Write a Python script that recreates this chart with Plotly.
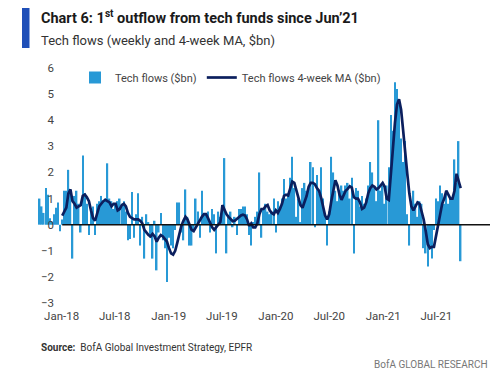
import pandas as pd
import plotly.graph_objects as go

# ---------------- data ----------------
first_week = "2017-10-18"   # weekly (Wednesday) flows

tech_flows = [
    1.0, 0.7, 0.45, 1.4, 1.15, 0.25, 0.1, 0.4, 0.65, 0.85,
    -0.25, 0.2, 1.3, 1.3, 2.1, 1.35, -1.3, 1.1, 1.3, 0.8,
    -0.3, 2.65, 1.2, 0.8, -0.4, 0.6, 0.7, -0.4, 0.8, 0.9,
    1.1, 0.9, 1.0, 2.35, 1.0, 0.9, 0.6, 0.8, 0.9, 1.0,
    0.8, 0.9, 0.5, -0.6, -0.55, 1.25, -0.5, 0.4, 1.2, -0.8,
    0.3, -1.3, 0.4, 0.1, -0.5, -1.3, 0.15, -1.75, -0.3, 0.45,
    -0.6, -0.9, -2.2, -0.5, -0.8, -0.9, -0.2, 0.85, 0.85, -0.3,
    -0.6, 1.35, 0.3, -0.8, -0.8, -0.2, 1.0, 0.5, -0.5, 1.3,
    0.4, 0.45, 0.5, -0.3, 0.6, 0.4, -1.1, 0.5, 0.3, 0.6,
    2.55, -1.1, 0.3, 0.5, -0.1, 0.3, -0.4, 0.6, 0.6, 0.7,
    0.7, 0.4, -0.4, -0.8, 0.1, 0.3, 0.5, 2.0, -0.5, 0.6,
    0.8, 0.5, 0.4, 0.5, 1.0, -0.3, 0.9, 0.7, 1.0, 1.75,
    1.0, 1.2, 1.8, 2.6, 1.4, 0.3, 1.0, 0.1, 1.4, 1.6,
    1.3, 1.4, 2.4, 2.2, -0.1, 1.9, 1.2, 2.2, 1.0, 0.4,
    -0.8, 0.5, 2.6, 2.0, 1.3, 0.9, 1.2, 1.5, 1.3, 1.5,
    1.6, 1.0, 1.8, -1.1, 1.4, 1.3, 0.7, 1.1, 0.8, 1.0,
    1.5, 2.4, 2.0, 1.4, 0.9, 4.0, 1.3, 1.5, 0.8, 1.5,
    2.2, 4.2, 3.6, 5.45, 5.2, 4.6, 3.3, 2.4, 3.2, 0.4,
    -0.8, 0.8, 1.3, 0.8, 0.3, 0.9, 0.8, -0.9, -1.1, -1.6,
    -0.9, -1.3, -0.2, 1.0, 0.9, 1.5, 1.2, 0.8, 1.3, 0.8,
    1.0, 1.0, 2.5, 1.6, 3.2, -1.4,
]

# 4-week moving average, as drawn (starts Jan-18)
tech_flows_ma = [
    0.35, 0.5, 0.65, 1.2, 1.35, 0.9, 0.8, 0.65, 0.7,
    0.75, 1.1, 1.15, 1.05, 0.9, 0.55, 0.25, 0.15, 0.45, 0.7,
    0.8, 0.9, 0.95, 0.9, 0.85, 0.7, 0.8, 0.8, 0.55, 0.6,
    0.75, 0.8, 0.7, 0.45, 0.3, 0.25, 0.2, 0.2, 0.2, 0.15,
    0.05, -0.2, -0.3, -0.4, -0.45, -0.35, -0.45, -0.65, -0.5, -0.4,
    -0.45, -0.55, -0.65, -0.9, -1.1, -1.15, -1.0, -0.7, -0.35, -0.05,
    0.15, 0.3, 0.2, 0.0, -0.2, -0.25, -0.1, 0.0, 0.2, 0.3,
    0.4, 0.4, 0.25, 0.05, -0.1, -0.2, -0.1, 0.0, 0.1, 0.75,
    0.55, 0.4, 0.3, 0.2, 0.13, 0.15, 0.22, 0.3, 0.35, 0.38,
    0.35, 0.2, -0.05, 0.05, -0.1, -0.1, 0.05, 0.4, 0.6, 0.6,
    0.7, 0.75, 0.55, 0.45, 0.4, 0.55, 0.45, 0.6, 0.8, 1.1,
    1.15, 1.12, 1.4, 1.65, 1.6, 1.3, 1.1, 0.75, 0.65, 0.9,
    1.1, 1.45, 1.6, 1.6, 1.55, 1.4, 1.3, 1.05, 0.65, 0.35,
    0.2, 0.4, 0.9, 1.35, 1.7, 1.5, 1.15, 0.95, 1.15, 1.3,
    1.37, 1.47, 1.42, 1.05, 1.0, 1.0, 0.85, 0.6, 0.65, 0.85,
    1.2, 1.4, 1.5, 1.45, 1.35, 1.4, 1.5, 1.6, 1.45, 1.0,
    0.95, 1.8, 2.9, 3.9, 4.6, 4.8, 4.4, 3.6, 2.9, 1.95,
    1.2, 0.7, 0.55, 0.7, 0.85, 0.8, 0.5, 0.2, -0.25, -0.75,
    -0.9, -0.85, -0.85, -0.45, 0.0, 0.45, 0.8, 1.0, 1.3, 1.15,
    1.0, 1.0, 1.3, 1.95, 1.65, 1.4,
]

y_ticks = [-3, -2, -1, 0, 1, 2, 3, 4, 5, 6]
x_range = ["2017-10-09", "2021-12-31"]

# ---------------- build ----------------
dates = pd.date_range(start=first_week, periods=len(tech_flows), freq="7D")
ma_dates = dates[len(dates) - len(tech_flows_ma):]

OFF = 8                      # page body margin
FW, FH = 500 - OFF, 374 - OFF
# plot area in page pixels
PL, PR, PT, PB = 37, 490, 68, 303
L, R, T, B = PL - OFF, PR - OFF, PT - OFF, PB - OFF
W, H = R - L, B - T
def px(x): return (x - OFF - L) / W     # page px -> paper
def py(y): return (B - (y - OFF)) / H

FONT = "Roboto, Open Sans, sans-serif"

fig = go.Figure()
fig.add_trace(go.Bar(x=dates, y=tech_flows, name="Tech flows ($bn)",
                     marker=dict(color="#2899D6", line=dict(width=0))))
fig.add_trace(go.Scatter(x=ma_dates, y=tech_flows_ma, mode="lines",
                         name="Tech flows 4-week MA ($bn)",
                         line=dict(color="#0B1F5E", width=2.7)))

# zero line from start of MA to end of axis
fig.add_shape(type="line", xref="x", yref="y", x0=ma_dates[0], x1=x_range[1],
              y0=0, y1=0, line=dict(color="#111111", width=1.5), layer="above")

# left blue accent bar
fig.add_shape(type="rect", xref="paper", yref="paper",
              x0=px(22), x1=px(29.5), y0=py(48), y1=py(7),
              fillcolor="#1F4FB8", line=dict(width=0))

fig.add_annotation(xref="paper", yref="paper", x=px(39), y=py(17), xanchor="left",
                   yanchor="middle", showarrow=False,
                   text="<b>Chart 6: 1<sup>st</sup> outflow from tech funds since Jun’21</b>",
                   font=dict(family=FONT, size=14.5, color="#1a1a1a"))
fig.add_annotation(xref="paper", yref="paper", x=px(39), y=py(40), xanchor="left",
                   yanchor="middle", showarrow=False,
                   text="Tech flows (weekly and 4-week MA, $bn)",
                   font=dict(family=FONT, size=13, color="#333333"))
fig.add_annotation(xref="paper", yref="paper", x=px(39), y=py(347), xanchor="left",
                   yanchor="middle", showarrow=False,
                   text="<b>Source:</b>  BofA Global Investment Strategy, EPFR",
                   font=dict(family=FONT, size=10, color="#333333"))
fig.add_annotation(xref="paper", yref="paper", x=px(490), y=py(364), xanchor="right",
                   yanchor="middle", showarrow=False,
                   text="BofA GLOBAL RESEARCH",
                   font=dict(family=FONT, size=10, color="#777777"))

fig.update_layout(
    width=FW, height=FH,
    margin=dict(l=L, r=FW - R, t=T, b=FH - B, autoexpand=False),
    paper_bgcolor="white", plot_bgcolor="white",
    bargap=0.25,
    showlegend=True,
    legend=dict(orientation="h", xref="paper", yref="paper",
                x=px(75), y=py(63), xanchor="left", yanchor="top",
                font=dict(family=FONT, size=11, color="#444444"),
                bgcolor="rgba(0,0,0,0)", traceorder="normal"),
    font=dict(family=FONT),
)
fig.update_xaxes(type="date", range=x_range, showgrid=False, showline=False,
                 zeroline=False, ticks="", dtick="M6", tick0="2018-01-01",
                 tickformat="%b-%y", tickfont=dict(size=11.5, color="#444444"),
                 ticklabelstandoff=4, automargin=False)
fig.update_yaxes(range=[y_ticks[0], y_ticks[-1]], tickvals=y_ticks,
                 showgrid=False, showline=False, zeroline=False, ticks="",
                 tickfont=dict(size=11.5, color="#444444"),
                 ticklabelstandoff=-18, automargin=False)

fig.write_html("out.html")
